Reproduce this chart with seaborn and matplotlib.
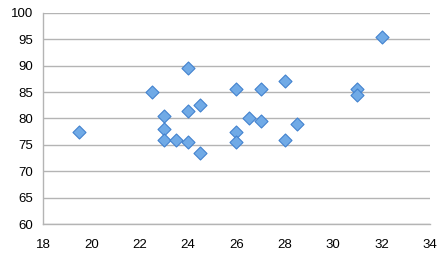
import matplotlib
matplotlib.use("Agg")
import matplotlib.pyplot as plt
import seaborn as sns
import pandas as pd

x_vals = [19.5, 22.5, 23, 23, 23, 23.5, 24, 24.5, 24, 24, 24.5, 26, 26, 26, 26.5, 27, 27, 28, 28, 28.5, 31, 31, 32]
y_vals = [77.5, 85, 80.5, 78, 76, 76, 75.5, 73.5, 89.5, 81.5, 82.5, 85.5, 77.5, 75.5, 80, 85.5, 79.5, 87, 76, 79, 85.5, 84.5, 95.5]
x_ticks = [18, 20, 22, 24, 26, 28, 30, 32, 34]
y_ticks = [60, 65, 70, 75, 80, 85, 90, 95, 100]

df = pd.DataFrame({"x": x_vals, "y": y_vals})

sns.set_theme(style="white")
plt.rcParams['font.family'] = ['Liberation Sans', 'DejaVu Sans']

fig = plt.figure(figsize=(4.47, 2.61), dpi=100)
ax = fig.add_axes([0.096, 0.141, 0.866, 0.81])

sns.scatterplot(data=df, x="x", y="y", ax=ax, marker="D", s=44,
                color="#70aae6", edgecolor="#4382cf", linewidth=0.8, zorder=3)

ax.set_xlim(18, 34)
ax.set_ylim(60, 100)
ax.set_xticks(x_ticks)
ax.set_yticks(y_ticks)
ax.set_xticklabels([str(t) for t in x_ticks])
ax.set_yticklabels([str(t) for t in y_ticks])
ax.yaxis.grid(True, color="#b4b4b4", linewidth=1.0)
ax.xaxis.grid(False)
ax.set_axisbelow(True)
ax.set_xlabel("")
ax.set_ylabel("")
for s in ["top", "right"]:
    ax.spines[s].set_visible(False)
for s in ["left", "bottom"]:
    ax.spines[s].set_color("#b4b4b4")
    ax.spines[s].set_linewidth(1.0)
ax.tick_params(axis="both", length=4, color="#b4b4b4", width=1.0, labelsize=9.5, labelcolor="black", pad=3, direction="out")
ax.tick_params(axis="x", pad=7)

fig.savefig("out.png", dpi=100)
